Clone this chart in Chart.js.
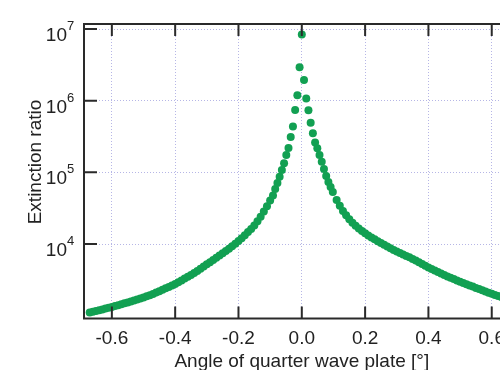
<!DOCTYPE html>
<html>
<head>
<meta charset="utf-8">
<title>Extinction ratio vs. quarter wave plate angle</title>
<script src="https://cdn.jsdelivr.net/npm/chart.js"></script>
<style>
    body { margin: 0; background: #fff; overflow: hidden; }
    #wrap { width: 540px; height: 370px; }
</style>
</head>
<body>
<div id="wrap"><canvas id="ratioChart"></canvas></div>
<script>
    // measured extinction ratio vs. QWP angle (deg)
    const leftAngles = [-0.67, -0.66, -0.65, -0.64, -0.63, -0.62, -0.61, -0.60, -0.59, -0.58,
        -0.57, -0.56, -0.55, -0.54, -0.53, -0.52, -0.51, -0.50, -0.49, -0.48,
        -0.47, -0.46, -0.45, -0.44, -0.43, -0.42, -0.41, -0.40, -0.39, -0.38,
        -0.37, -0.36, -0.35, -0.34, -0.33, -0.32, -0.31, -0.30, -0.29, -0.28,
        -0.27, -0.26, -0.25, -0.24, -0.23, -0.22, -0.21, -0.20, -0.19, -0.18,
        -0.17, -0.16, -0.15, -0.14, -0.13, -0.12, -0.11, -0.10];
    const leftRatios = [1108, 1137, 1166, 1192, 1223, 1255, 1288, 1321, 1360, 1400,
        1446, 1488, 1532, 1582, 1628, 1682, 1736, 1799, 1864, 1931,
        2006, 2098, 2194, 2296, 2409, 2520, 2636, 2766, 2931, 3105,
        3300, 3498, 3706, 3939, 4214, 4523, 4855, 5211, 5574, 5983,
        6422, 6893, 7420, 7988, 8574, 9290, 10100, 11020, 12050, 13270,
        14660, 16200, 18130, 20740, 23970, 28420, 33700, 40460];

    const peakAngles = [-0.091, -0.084, -0.077, -0.070, -0.063, -0.056, -0.049, -0.042, -0.035, -0.028,
        -0.021, -0.014, -0.007, 0.000, 0.007, 0.014, 0.021, 0.028, 0.035, 0.042,
        0.049, 0.056, 0.063, 0.070, 0.077, 0.084, 0.091, 0.098];
    const peakRatios = [47520, 58550, 70990, 87000, 107800, 133700, 174500, 218600, 311200, 436200,
        741000, 1188000, 2922000, 8380000, 1943000, 1072000, 734000, 492700, 350500, 260900,
        216500, 174500, 140700, 111300, 88900, 73300, 62450, 53180];

    const rightAngles = [0.11, 0.12, 0.13, 0.14, 0.15, 0.16, 0.17, 0.18, 0.19, 0.20,
        0.21, 0.22, 0.23, 0.24, 0.25, 0.26, 0.27, 0.28, 0.29, 0.30,
        0.31, 0.32, 0.33, 0.34, 0.35, 0.36, 0.37, 0.38, 0.39, 0.40,
        0.41, 0.42, 0.43, 0.44, 0.45, 0.46, 0.47, 0.48, 0.49, 0.50,
        0.51, 0.52, 0.53, 0.54, 0.55, 0.56, 0.57, 0.58, 0.59, 0.60,
        0.61, 0.62, 0.63, 0.64, 0.65, 0.66, 0.67, 0.68];
    const rightRatios = [41110, 34120, 28970, 25120, 22130, 19820, 17950, 16440, 15210, 14130,
        13140, 12370, 11630, 10940, 10330, 9750, 9200, 8710, 8250, 7860,
        7490, 7140, 6800, 6510, 6180, 5890, 5570, 5260, 4970, 4700,
        4480, 4270, 4070, 3880, 3695, 3532, 3377, 3239, 3105, 2979,
        2857, 2749, 2645, 2545, 2441, 2349, 2260, 2175, 2093, 2020,
        1950, 1882, 1822, 1765, 1709, 1655, 1603, 1552];

    const xTicks = [-0.6, -0.4, -0.2, 0.0, 0.2, 0.4, 0.6];
    const yExponents = [4, 5, 6, 7];

    const FONT = '"Liberation Sans", Arial, sans-serif';
    const TEXT = '#222';

    const points = [];
    [[leftAngles, leftRatios], [peakAngles, peakRatios], [rightAngles, rightRatios]].forEach(([xs, ys]) => {
        xs.forEach((a, i) => points.push({ x: a, y: ys[i] }));
    });

    // box frame, inward tick marks, 10^n labels and axis titles
    const frame = {
        id: 'frame',
        afterDraw(chart) {
            const { ctx, chartArea: a, scales: { x, y } } = chart;
            ctx.save();
            ctx.strokeStyle = '#2a2a2a';
            ctx.lineWidth = 2;
            ctx.strokeRect(a.left, a.top, a.right - a.left, a.bottom - a.top);

            ctx.beginPath();
            xTicks.forEach(v => {
                const px = x.getPixelForValue(v);
                ctx.moveTo(px, a.bottom); ctx.lineTo(px, a.bottom - 12);
                ctx.moveTo(px, a.top); ctx.lineTo(px, a.top + 12);
            });
            yExponents.forEach(e => {
                const py = y.getPixelForValue(Math.pow(10, e));
                ctx.moveTo(a.left, py); ctx.lineTo(a.left + 13, py);
                ctx.moveTo(a.right, py); ctx.lineTo(a.right - 13, py);
            });
            ctx.stroke();

            ctx.fillStyle = TEXT;
            ctx.textBaseline = 'alphabetic';
            yExponents.forEach(e => {
                const py = y.getPixelForValue(Math.pow(10, e));
                ctx.font = '19px ' + FONT;
                ctx.textAlign = 'right';
                ctx.fillText('10', 67, py + 12);
                ctx.font = '13px ' + FONT;
                ctx.textAlign = 'left';
                ctx.fillText(String(e), 67, py + 1);
            });

            ctx.font = '19px ' + FONT;
            ctx.textAlign = 'center';
            ctx.fillText('Angle of quarter wave plate [°]', (a.left + a.right) / 2, 367);

            ctx.translate(40.5, 162);
            ctx.rotate(-Math.PI / 2);
            ctx.fillText('Extinction ratio', 0, 0);
            ctx.restore();
        }
    };

    new Chart(document.getElementById('ratioChart'), {
        type: 'scatter',
        data: {
            datasets: [{
                data: points,
                backgroundColor: 'rgb(18, 160, 82)',
                borderWidth: 0,
                pointRadius: 4,
                pointHoverRadius: 4
            }]
        },
        options: {
            responsive: true,
            maintainAspectRatio: false,
            animation: false,
            layout: { padding: { top: 24, right: 20.4, left: 0, bottom: 0 } },
            plugins: { legend: { display: false }, tooltip: { enabled: false } },
            scales: {
                x: {
                    type: 'linear',
                    min: -0.688,
                    max: 0.688,
                    afterBuildTicks: s => { s.ticks = xTicks.map(v => ({ value: v })); },
                    afterFit: s => { s.height = 51.5; },
                    grid: { color: '#b6b6e6', lineWidth: 1, drawTicks: false },
                    border: { display: false, dash: [1, 2] },
                    ticks: {
                        padding: 9,
                        color: TEXT,
                        font: { family: FONT, size: 19 },
                        maxRotation: 0,
                        callback: v => v.toFixed(1)
                    }
                },
                y: {
                    type: 'logarithmic',
                    min: 913,
                    max: 11750000,
                    afterBuildTicks: s => { s.ticks = yExponents.map(e => ({ value: Math.pow(10, e) })); },
                    afterFit: s => { s.width = 84; },
                    grid: { color: '#b6b6e6', lineWidth: 1, drawTicks: false },
                    border: { display: false, dash: [1, 2] },
                    ticks: { display: false }
                }
            }
        },
        plugins: [frame]
    });
</script>
</body>
</html>
